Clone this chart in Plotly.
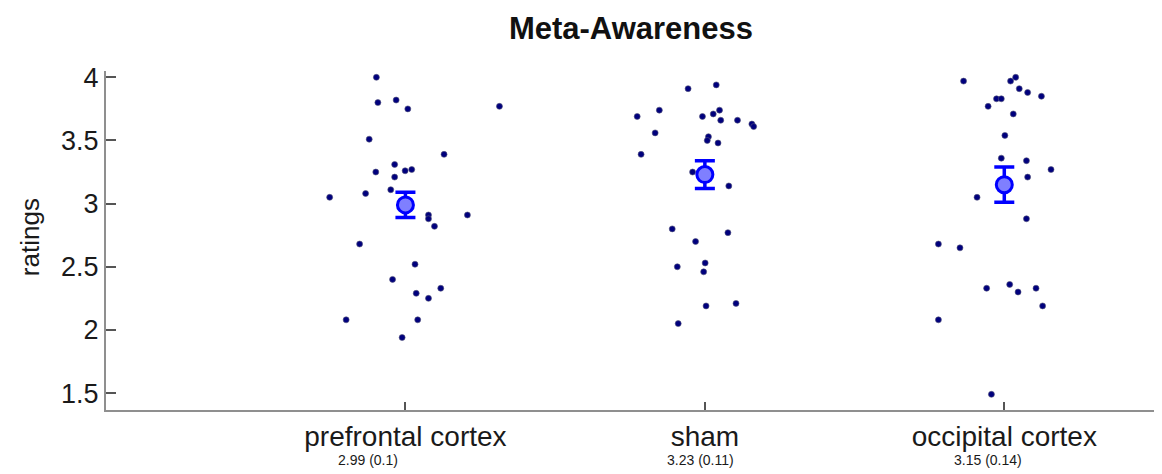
import plotly.graph_objects as go

categories = ["prefrontal cortex", "sham", "occipital cortex"]
cat_pos = [1, 2, 3]
means = [2.99, 3.23, 3.15]
sems = [0.10, 0.11, 0.14]
sub_labels = ["2.99 (0.1)", "3.23 (0.11)", "3.15 (0.14)"]
sub_label_x = [0.875, 1.984, 2.946]

# individual ratings (jitter offset from category centre, rating)
pfc_jitter = [-0.097, -0.092, -0.031, 0.008, 0.314, -0.121, 0.129, -0.036, -0.099, -0.001,
              0.021, -0.036, -0.049, -0.133, -0.253, 0.077, 0.077, 0.097, 0.207, -0.153,
              0.032, -0.043, 0.036, 0.077, 0.118, -0.198, 0.041, -0.011]
pfc_ratings = [4.00, 3.80, 3.82, 3.75, 3.77, 3.51, 3.39, 3.31, 3.25, 3.26,
               3.27, 3.21, 3.11, 3.08, 3.05, 2.91, 2.88, 2.82, 2.91, 2.68,
               2.52, 2.40, 2.29, 2.25, 2.33, 2.08, 2.08, 1.94]

sham_jitter = [-0.056, 0.038, -0.226, -0.152, -0.008, 0.028, 0.049, 0.053, 0.109, 0.157,
               0.163, -0.166, 0.012, 0.008, 0.044, -0.213, -0.041, 0.080, -0.109, 0.077,
               -0.031, -0.092, 0.001, -0.004, 0.004, 0.104, -0.089]
sham_ratings = [3.91, 3.94, 3.69, 3.74, 3.69, 3.71, 3.74, 3.66, 3.66, 3.63,
                3.61, 3.56, 3.53, 3.50, 3.48, 3.39, 3.25, 3.14, 2.80, 2.77,
                2.70, 2.50, 2.53, 2.46, 2.19, 2.21, 2.05]

occ_jitter = [-0.136, 0.021, 0.038, 0.050, 0.078, 0.124, -0.026, -0.010, -0.054, 0.030,
              0.002, -0.010, 0.074, 0.156, 0.078, -0.091, 0.074, -0.220, -0.148, -0.059,
              0.018, 0.046, 0.106, 0.128, -0.220, -0.043]
occ_ratings = [3.97, 3.97, 4.00, 3.91, 3.88, 3.85, 3.83, 3.83, 3.77, 3.71,
               3.54, 3.36, 3.34, 3.27, 3.21, 3.05, 2.88, 2.68, 2.65, 2.33,
               2.36, 2.30, 2.33, 2.19, 2.08, 1.49]

y_ticks = [1.5, 2, 2.5, 3, 3.5, 4]

FONT = "Liberation Sans, Arial, sans-serif"
AXIS_COL = "#8f8f8f"

fig = go.Figure()

groups = [(pfc_jitter, pfc_ratings), (sham_jitter, sham_ratings), (occ_jitter, occ_ratings)]
for c, (jit, rat) in zip(cat_pos, groups):
    fig.add_trace(go.Scatter(
        x=[c + j for j in jit], y=rat, mode="markers",
        marker=dict(size=6, color="#00007d", line=dict(width=0.6, color="#55557a")),
        showlegend=False, hoverinfo="y"))

fig.add_trace(go.Scatter(
    x=cat_pos, y=means, mode="markers",
    marker=dict(size=16, color="#7f7fff", line=dict(width=3, color="#0000ff")),
    error_y=dict(type="data", array=sems, visible=True, color="#0000ff", thickness=3.5, width=10),
    showlegend=False))

fig.update_layout(
    width=1162, height=474,
    margin=dict(l=106, r=8, t=71, b=64),
    paper_bgcolor="white", plot_bgcolor="white",
    font=dict(family=FONT, color="#1a1a1a"),
    title=dict(text="<b>Meta-Awareness</b>", x=0.543, xanchor="center",
               y=1 - 28 / 474, yanchor="middle", yref="container",
               font=dict(size=31, family=FONT, color="#111111")),
    xaxis=dict(range=[0, 3.5], tickvals=cat_pos, ticktext=categories,
               showgrid=False, zeroline=False, showline=True, linecolor=AXIS_COL, linewidth=2,
               ticks="inside", ticklen=8, tickcolor="#555555", tickwidth=1.5,
               tickfont=dict(size=28, family=FONT, color="#1a1a1a")),
    yaxis=dict(range=[1.366, 4.05], tickvals=y_ticks, ticktext=["1.5", "2", "2.5", "3", "3.5", "4"],
               showgrid=False, zeroline=False, showline=True, linecolor=AXIS_COL, linewidth=2,
               ticks="inside", ticklen=10, tickcolor="#555555", tickwidth=1.5,
               tickfont=dict(size=27, family=FONT, color="#1a1a1a")),
)

for xv, txt in zip(sub_label_x, sub_labels):
    fig.add_annotation(x=xv, y=-0.1475, xref="x", yref="paper", text=txt, showarrow=False,
                       xanchor="center", yanchor="middle",
                       font=dict(size=14, family=FONT, color="#1a1a1a"))

fig.add_annotation(x=-0.0725, y=0.51, xref="paper", yref="paper", text="ratings",
                   textangle=-90, showarrow=False, xanchor="center", yanchor="middle",
                   font=dict(size=26, family=FONT, color="#1a1a1a"))

fig.write_html("out.html")
